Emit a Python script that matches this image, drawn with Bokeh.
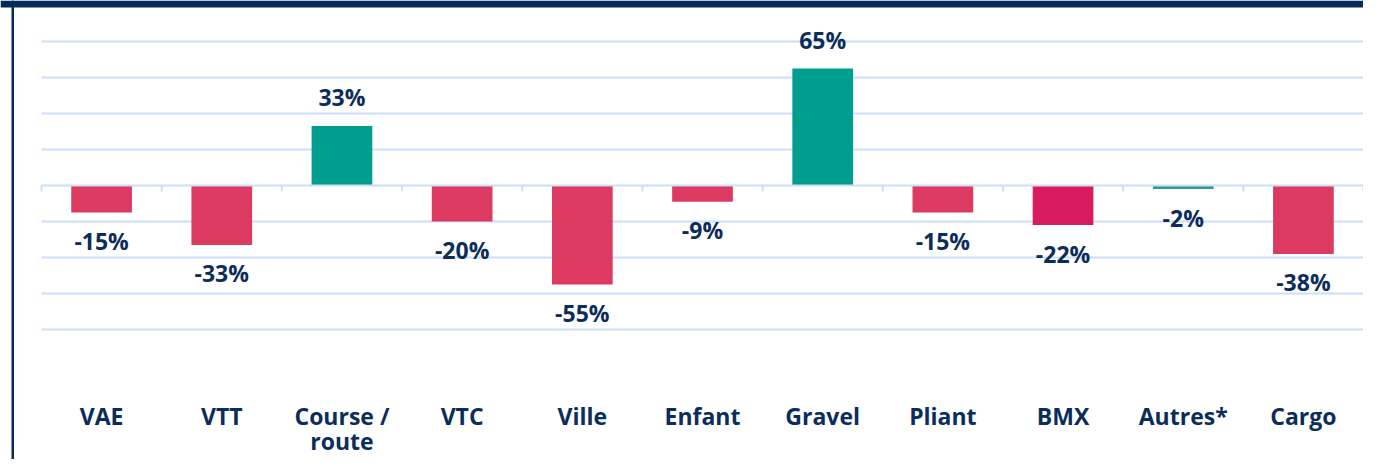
from bokeh.plotting import figure
from bokeh.models import Range1d, BoxAnnotation, ColumnDataSource
from bokeh.core.properties import value
from bokeh.embed import file_html
from bokeh.resources import INLINE

# ---- data ----
categories = ["VAE", "VTT", "Course /\nroute", "VTC", "Ville", "Enfant",
              "Gravel", "Pliant", "BMX", "Autres*", "Cargo"]
values = [-15, -33, 33, -20, -55, -9, 65, -15, -22, -2, -38]
grid_levels = [-80, -60, -40, -20, 20, 40, 60, 80]

# ---- styling ----
NEG = "#DD3A62"
POS = "#009E8F"
bar_colors = [NEG, NEG, POS, NEG, NEG, NEG, POS, NEG, "#DA1B5E", "#2E9A8B", NEG]
NAVY = "#0B2D5B"
GRID = "#C9DFF7"
FONT = "Open Sans"

W, H = 1363, 459
LEFT_PX = 41
PX_PER_CAT = (W - LEFT_PX) / 11.0
ZERO_PX = 185.0
PX_PER_PCT = 1.8

x0 = -LEFT_PX / PX_PER_CAT
x1 = x0 + W / PX_PER_CAT
ytop = ZERO_PX / PX_PER_PCT
ybot = ytop - H / PX_PER_PCT


def ydata(px):
    return ytop - px / PX_PER_PCT


def xdata(px):
    return x0 + px / PX_PER_CAT


p = figure(width=W, height=H, output_backend="svg", toolbar_location=None,
           x_range=Range1d(x0, x1), y_range=Range1d(ybot, ytop),
           min_border=0, min_border_left=0, min_border_right=0,
           min_border_top=0, min_border_bottom=0)
p.axis.visible = False
p.grid.visible = False
p.outline_line_color = None
p.background_fill_color = "white"
p.border_fill_color = "white"

n = len(categories)
xs = [i + 0.5 for i in range(n)]

# frame decorations
p.add_layout(BoxAnnotation(bottom=ydata(7), fill_color="#062A5A", fill_alpha=1,
                           line_color=None, level="underlay"))
p.add_layout(BoxAnnotation(left=xdata(11), right=xdata(13.5), fill_color="#062A5A",
                           fill_alpha=1, line_color=None, level="underlay"))

# gridlines
p.segment(x0=[0] * len(grid_levels), x1=[n] * len(grid_levels), y0=grid_levels,
          y1=grid_levels, line_color=GRID, line_width=2)

# bars
src = ColumnDataSource(dict(x=xs, top=values, color=bar_colors,
                            label=[f"{v}%" for v in values],
                            ly=[v + (16.1 if v >= 0 else -15.8) for v in values]))
p.vbar(x="x", top="top", bottom=0, width=0.505, fill_color="color",
       line_color=None, source=src)

# zero axis line with ticks
p.segment(x0=[0], x1=[n], y0=[0], y1=[0], line_color=GRID, line_width=2)
bounds = list(range(n + 1))
p.segment(x0=bounds, x1=bounds, y0=[0] * len(bounds), y1=[-3.4] * len(bounds),
          line_color=GRID, line_width=2)

# value labels
p.text(x="x", y="ly", text="label", source=src, text_align="center",
       text_baseline="middle", text_font=value(FONT), text_font_style="bold",
       text_font_size="23px", text_color=NAVY)

# category labels
p.text(x=xs, y=[ydata(399)] * n, text=categories, text_align="center",
       text_baseline="top", text_font=value(FONT), text_font_style="bold",
       text_font_size="23px", text_color=NAVY, text_line_height=0.8)

open("out.html", "w").write(file_html(p, INLINE))
